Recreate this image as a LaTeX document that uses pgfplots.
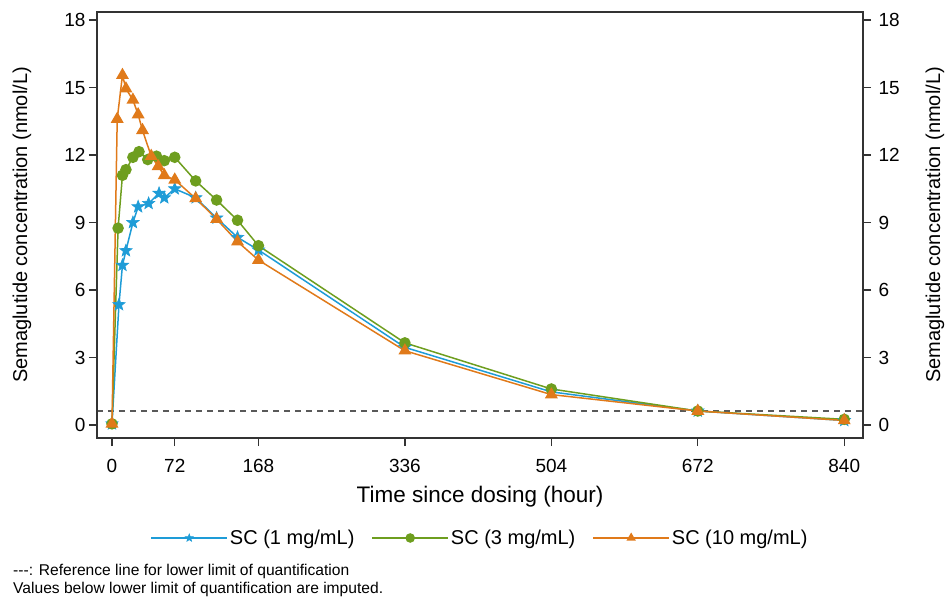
\documentclass[border=0pt]{standalone}
\usepackage{fontspec}
\setmainfont{Liberation Sans}
\usepackage{pgfplots}
\pgfplotsset{compat=1.18}
\usetikzlibrary{calc}
\definecolor{c1}{HTML}{1E9CD7}
\definecolor{c3}{HTML}{6E9E1F}
\definecolor{c10}{HTML}{E07A1A}
\definecolor{axgray}{HTML}{333333}

% filled five-pointed star
\pgfdeclareplotmark{fstar}{%
  \pgfpathmoveto{\pgfpointpolar{90}{\pgfplotmarksize}}%
  \pgfpathlineto{\pgfpointpolar{126}{0.42\pgfplotmarksize}}%
  \pgfpathlineto{\pgfpointpolar{162}{\pgfplotmarksize}}%
  \pgfpathlineto{\pgfpointpolar{198}{0.42\pgfplotmarksize}}%
  \pgfpathlineto{\pgfpointpolar{234}{\pgfplotmarksize}}%
  \pgfpathlineto{\pgfpointpolar{270}{0.42\pgfplotmarksize}}%
  \pgfpathlineto{\pgfpointpolar{306}{\pgfplotmarksize}}%
  \pgfpathlineto{\pgfpointpolar{342}{0.42\pgfplotmarksize}}%
  \pgfpathlineto{\pgfpointpolar{18}{\pgfplotmarksize}}%
  \pgfpathlineto{\pgfpointpolar{54}{0.42\pgfplotmarksize}}%
  \pgfpathclose
  \pgfusepathqfillstroke}

\begin{document}
\begin{tikzpicture}
\pgfplotsset{
  pkaxis/.style={width=766pt,height=426pt,scale only axis,
    xmin=-17.2,xmax=861.5,ymin=-0.58,ymax=18.36,
    ytick={0,3,...,18},tick align=outside,major tick length=8pt,
    tick style={axgray,line width=1.3pt},
    axis line style={axgray,line width=1.5pt},
    ticklabel style={font=\fontsize{19}{22}\selectfont},
    /pgf/number format/assume math mode=true,
    label style={font=\fontsize{20}{24}\selectfont}},
}
\begin{axis}[pkaxis,
  xtick={0,72,168,336,504,672,840},xtick pos=bottom,ytick pos=left,
  xticklabel style={yshift=-10pt},
  xlabel={Time since dosing (hour)},
  xlabel style={at={(axis description cs:0.5,-0.1385)},anchor=center,font=\fontsize{22.5}{26}\selectfont},
  ylabel={Semaglutide concentration (nmol/L)},
  ylabel style={at={(axis description cs:-0.0979,0.5)},anchor=center},
  legend style={at={(0.5,-0.2347)},anchor=center,legend columns=3,draw=none,fill=none,
    font=\fontsize{20}{24}\selectfont,
    /tikz/every even column/.append style={column sep=15pt}},
  legend image code/.code={\draw[#1,mark repeat=2,mark phase=2,mark size=4pt]
    plot coordinates {(0pt,0pt) (38pt,0pt) (76pt,0pt)};},
]
\addplot[forget plot,gray!70!black,line width=1.2pt,dash pattern=on 6pt off 5pt]
  coordinates {(-17.2,0.62) (861.5,0.62)};
\addplot[c1,line width=1.5pt,mark=fstar,mark size=6.5pt,mark options={fill=c1,line width=0.6pt}]
  coordinates {(0,0.05) (8,5.35) (12,7.1) (16,7.75) (24,9.0) (30,9.7) (42,9.85) (54,10.3)
    (60,10.1) (72,10.5) (96,10.1) (120,9.2) (144,8.34) (168,7.78) (336,3.45) (504,1.47)
    (672,0.62) (840,0.2)};
\addplot[c3,line width=1.5pt,mark=*,mark size=5pt,mark options={fill=c3}]
  coordinates {(0,0.05) (7,8.75) (12,11.1) (16,11.35) (24,11.9) (31,12.15) (41,11.8) (51,11.95)
    (60,11.75) (72,11.9) (96,10.85) (120,10.0) (144,9.1) (168,7.97) (336,3.65) (504,1.6)
    (672,0.62) (840,0.25)};
\addplot[c10,line width=1.5pt,mark=triangle*,mark size=6pt,mark options={fill=c10}]
  coordinates {(0,0.05) (6,13.6) (12,15.55) (16,14.95) (24,14.45) (30,13.8) (35,13.1) (45,11.95)
    (53,11.5) (60,11.1) (72,10.9) (96,10.07) (120,9.15) (144,8.15) (168,7.33) (336,3.3)
    (504,1.35) (672,0.62) (840,0.2)};
\legend{SC (1 mg/mL),SC (3 mg/mL),SC (10 mg/mL)}
\coordinate (sw) at (rel axis cs:0,0);
\coordinate (ne) at (rel axis cs:1,1);
\end{axis}
\begin{axis}[pkaxis,xtick=\empty,ytick pos=right,yticklabel pos=right,
  yticklabel style={xshift=4pt},
  ylabel={Semaglutide concentration (nmol/L)},
  ylabel style={at={(axis description cs:1.094,0.5)},anchor=center,rotate=0}]
\addplot[draw=none] coordinates {(0,0)};
\end{axis}
\node[anchor=base west,inner sep=0pt,font=\fontsize{15.6}{18}\selectfont]
  at ($(sw)+(-84pt,-137pt)$) {-{}-{}-: Reference line for lower limit of quantification};
\node[anchor=base west,inner sep=0pt,font=\fontsize{15.6}{18}\selectfont]
  at ($(sw)+(-84pt,-155pt)$) {Values below lower limit of quantification are imputed.};
\pgfresetboundingbox
\path[use as bounding box] ($(sw)+(-97pt,-160pt)$) rectangle ($(ne)+(86pt,12pt)$);
\end{tikzpicture}
\end{document}
